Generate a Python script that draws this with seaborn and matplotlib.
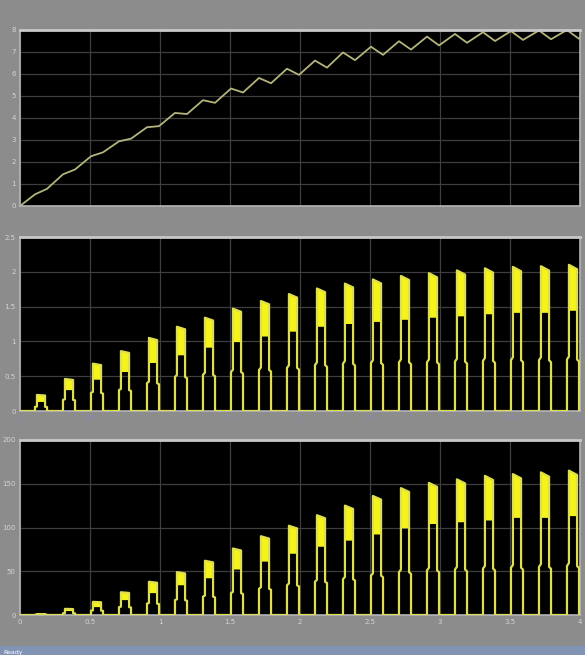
import matplotlib
matplotlib.use('Agg')
import matplotlib.pyplot as plt
import pandas as pd
import seaborn as sns
from matplotlib.patches import Rectangle

# pulse centres (time units) - 20 pulses, one every 0.2
pulse_t = [0.15, 0.35, 0.55, 0.75, 0.95, 1.15, 1.35, 1.55, 1.75, 1.95,
           2.15, 2.35, 2.55, 2.75, 2.95, 3.15, 3.35, 3.55, 3.75, 3.95]

# top scope: value at the start of each pulse and at its end
top_start = [0.53, 1.44, 2.26, 2.94, 3.58, 4.23, 4.81, 5.34, 5.82, 6.24,
             6.61, 6.98, 7.24, 7.49, 7.70, 7.82, 7.90, 7.95, 7.98, 8.00]
top_end = [0.78, 1.66, 2.44, 3.06, 3.63, 4.18, 4.69, 5.16, 5.58, 5.96,
           6.29, 6.63, 6.87, 7.11, 7.30, 7.42, 7.50, 7.55, 7.58, 7.60]

# middle scope: block top, block bottom, lower step
mid_peak = [0.23, 0.46, 0.68, 0.86, 1.05, 1.21, 1.34, 1.47, 1.58, 1.68,
            1.76, 1.83, 1.89, 1.94, 1.98, 2.02, 2.05, 2.07, 2.08, 2.10]
mid_upper = [0.13, 0.30, 0.45, 0.56, 0.69, 0.80, 0.91, 0.99, 1.07, 1.14,
             1.21, 1.25, 1.28, 1.31, 1.34, 1.36, 1.39, 1.41, 1.41, 1.44]
mid_lower = [0.06, 0.16, 0.26, 0.30, 0.40, 0.49, 0.52, 0.56, 0.59, 0.62,
             0.66, 0.68, 0.69, 0.70, 0.70, 0.71, 0.72, 0.73, 0.73, 0.74]

# bottom scope
low_peak = [1, 7, 15, 26, 38, 49, 62, 76, 90, 102,
            114, 125, 136, 145, 151, 155, 159, 161, 163, 165]
low_upper = [0.7, 4.5, 9, 17, 25, 34, 42, 52, 61, 70,
             78, 85, 92, 99, 104, 106, 108, 111, 111, 113]
low_lower = [0.3, 2, 5, 9, 13, 17, 21, 25, 30, 34,
             38, 41, 45, 49, 51, 52, 53, 54, 55, 56]

x_ticks = [0, 0.5, 1, 1.5, 2, 2.5, 3, 3.5, 4]
x_labels = ['0', '0.5', '1', '1.5', '2', '2.5', '3', '3.5', '4']
top_ticks = [0, 1, 2, 3, 4, 5, 6, 7, 8]
mid_ticks = [0, 0.5, 1, 1.5, 2, 2.5]
low_ticks = [0, 50, 100, 150, 200]

OUT_W, IN_W = 0.043, 0.029


def top_frame():
    t, v = [0.0], [0.0]
    for c, a, b in zip(pulse_t, top_start, top_end):
        t += [c - OUT_W, c + OUT_W]
        v += [a, b]
    t.append(4.0)
    v.append(top_end[-1] + 0.05)
    return pd.DataFrame({'t': t, 'v': v})


def pulse_frame(peak, upper, lower):
    t, v, blocks = [0.0], [0.0], []
    for c, p, u, l in zip(pulse_t, peak, upper, lower):
        drop = 0.03 * p
        pts = [(c - OUT_W, 0), (c - OUT_W, l), (c - IN_W, l * 1.06),
               (c - IN_W, p), (c + IN_W, p - drop), (c + IN_W, l),
               (c + OUT_W, l * 0.96), (c + OUT_W, 0)]
        t += [q[0] for q in pts]
        v += [q[1] for q in pts]
        blocks.append([(c - IN_W, u), (c - IN_W, p), (c + IN_W, p - drop), (c + IN_W, u)])
    t.append(4.0)
    v.append(0.0)
    return pd.DataFrame({'t': t, 'v': v}), blocks


sns.set_theme(style='dark', rc={
    'figure.facecolor': '#8c8c8c',
    'axes.facecolor': 'black',
    'axes.edgecolor': '#b4b4b4',
    'axes.grid': True,
    'grid.color': '#3e3e3e',
    'grid.linewidth': 0.9,
})

fig = plt.figure(figsize=(5.85, 6.55), dpi=100)
W = 560 / 585
L = 20 / 585
ax_top = fig.add_axes([L, 1 - 206 / 655, W, 176 / 655])
ax_mid = fig.add_axes([L, 1 - 411 / 655, W, 174 / 655])
ax_low = fig.add_axes([L, 1 - 615 / 655, W, 175 / 655])

sns.lineplot(data=top_frame(), x='t', y='v', ax=ax_top, estimator=None,
             sort=False, color='#b4b47c', linewidth=1.3)

for ax, pk, up, lo in [(ax_mid, mid_peak, mid_upper, mid_lower),
                       (ax_low, low_peak, low_upper, low_lower)]:
    df, blocks = pulse_frame(pk, up, lo)
    for b in blocks:
        ax.fill([q[0] for q in b], [q[1] for q in b], color='#f4f41c', lw=0, zorder=2)
    sns.lineplot(data=df, x='t', y='v', ax=ax, estimator=None, sort=False,
                 color='#dede50', linewidth=1.6, zorder=3)

for ax, ticks, top in [(ax_top, top_ticks, 8), (ax_mid, mid_ticks, 2.5), (ax_low, low_ticks, 200)]:
    ax.set_xlim(0, 4)
    ax.set_ylim(0, top)
    ax.set_xticks(x_ticks)
    ax.set_yticks(ticks)
    ax.set_yticklabels([('%g' % k) for k in ticks])
    ax.set_xlabel('')
    ax.set_ylabel('')
    ax.tick_params(length=0, labelsize=5, labelcolor='#d4d4d4', pad=3)
    for s in ax.spines.values():
        s.set_linewidth(1.2)
    ax.spines['top'].set_color('#c8c8c8')
    ax.spines['top'].set_linewidth(2)

ax_top.set_xticklabels([])
ax_mid.set_xticklabels(x_labels, color='#8a8ab8')
ax_low.set_xticklabels(x_labels)

# status bar
fig.patches.append(Rectangle((0, 0), 1, 9 / 655, transform=fig.transFigure,
                             color='#8294b4', zorder=0))
fig.text(0.005, 0.002, 'Ready', fontsize=4.5, color='white')

fig.savefig('out.png', dpi=100)
